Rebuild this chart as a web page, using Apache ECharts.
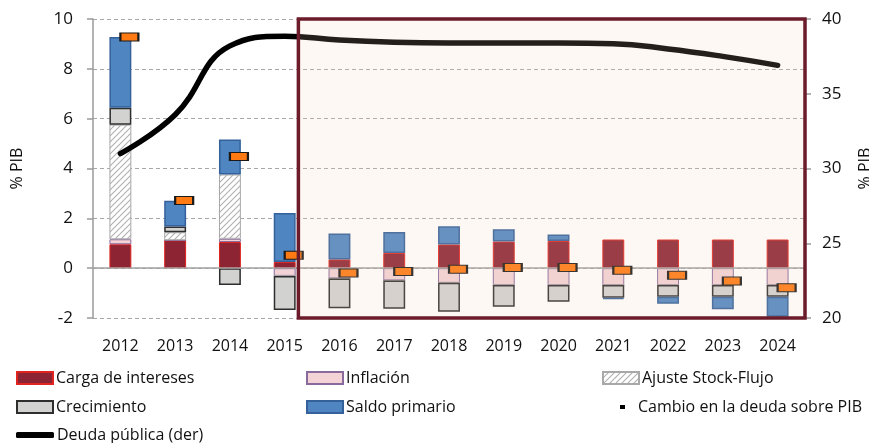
<!DOCTYPE html>
<html>
<head>
<meta charset="utf-8">
<script src="https://cdn.jsdelivr.net/npm/echarts@6/dist/echarts.min.js"></script>
<style>
html,body{margin:0;padding:0;background:#fff;}
#chart{width:869px;height:443px;}
</style>
</head>
<body>
<div id="chart"></div>
<script>
// ---- Data ----
const years = ['2012','2013','2014','2015','2016','2017','2018','2019','2020','2021','2022','2023','2024'];
const cargaIntereses = [0.96, 1.12, 1.05, 0.25, 0.35, 0.61, 0.95, 1.07, 1.09, 1.15, 1.15, 1.15, 1.15];
const inflacion      = [0.20, 0.00, 0.13, -0.31, -0.41, -0.49, -0.59, -0.68, -0.68, -0.68, -0.68, -0.68, -0.68];
const ajusteStock    = [4.60, 0.32, 2.58, 0, 0, 0, 0, 0, 0, 0, 0, 0, 0];
const crecimiento    = [0.68, 0.23, -0.68, -1.37, -1.20, -1.14, -1.16, -0.87, -0.67, -0.51, -0.47, -0.47, -0.47];
const saldoPrimario  = [2.84, 1.04, 1.40, 1.96, 1.04, 0.84, 0.73, 0.49, 0.26, -0.05, -0.28, -0.50, -0.80];
const cambioDeuda    = [9.28, 2.72, 4.48, 0.52, -0.19, -0.13, -0.04, 0.03, 0.03, -0.08, -0.28, -0.52, -0.79];
const deudaPublica   = [31.0, 33.6, 38.2, 38.85, 38.6, 38.45, 38.4, 38.4, 38.4, 38.35, 38.0, 37.5, 36.9];
const leftTicks  = { min: -2, max: 10, interval: 2 };
const rightTicks = { min: 20, max: 40, interval: 5 };
const forecastFromIndex = 3; // shaded projection box starts just after the 2015 bar

const names = {
  carga: 'Carga de intereses',
  infl: 'Inflación',
  ajuste: 'Ajuste Stock-Flujo',
  crec: 'Crecimiento',
  saldo: 'Saldo primario',
  cambio: 'Cambio en la deuda sobre PIB',
  deuda: 'Deuda pública (der)'
};

const FONT = '"Open Sans", "DejaVu Sans", sans-serif';

// hatch pattern
const hatch = document.createElement('canvas');
hatch.width = 6; hatch.height = 6;
(function(){
  const c = hatch.getContext('2d');
  c.fillStyle = '#ffffff'; c.fillRect(0,0,6,6);
  c.strokeStyle = '#b0b0b0'; c.lineWidth = 1.1;
  c.beginPath();
  c.moveTo(0,6); c.lineTo(6,0);
  c.moveTo(-1,1); c.lineTo(1,-1);
  c.moveTo(5,7); c.lineTo(7,5);
  c.stroke();
})();

const chart = echarts.init(document.getElementById('chart'), null, {renderer:'canvas'});

function legendAt(name, left, top, extra) {
  return Object.assign({
    data: [{ name: name, icon: 'rect' }], left: left, top: top, orient: 'horizontal',
    itemWidth: 36, itemHeight: 12, itemGap: 4, padding: 0,
    selectedMode: false,
    textStyle: { fontFamily: FONT, fontSize: 16, color: '#111', padding: [0,0,0,-2] }
  }, extra || {});
}

const barBase = { type: 'bar', stack: 'total', barWidth: '40%', z: 2 };

const option = {
  animation: false,
  backgroundColor: '#ffffff',
  grid: { left: 93, right: 64, top: 19, bottom: 125, containLabel: false, outerBoundsMode: 'none' },
  legend: [
    legendAt(names.carga, 16, 370),
    legendAt(names.infl, 306, 370),
    legendAt(names.ajuste, 602, 370),
    legendAt(names.crec, 16, 399),
    legendAt(names.saldo, 306, 399),
    legendAt(names.cambio, 620, 399, {
      itemWidth: 5, itemHeight: 4,
      data: [{ name: names.cambio, icon: 'rect', itemStyle: { color: '#000', borderWidth: 0, opacity: 1 } }],
      textStyle: { fontFamily: FONT, fontSize: 16, color: '#111', padding: [0,0,0,8] }
    }),
    legendAt(names.deuda, 16, 427, {
      itemWidth: 38, itemHeight: 6,
      data: [{ name: names.deuda, icon: 'roundRect', itemStyle: { color: '#000' } }]
    })
  ],
  xAxis: {
    type: 'category',
    data: years,
    position: 'bottom',
    axisLine: { show: false, onZero: false },
    axisTick: { show: false },
    axisLabel: { fontFamily: FONT, fontSize: 16, color: '#111', margin: 20 },
    splitLine: { show: false }
  },
  yAxis: [
    {
      type: 'value',
      min: leftTicks.min, max: leftTicks.max, interval: leftTicks.interval,
      name: '% PIB', nameLocation: 'middle', nameGap: 68, nameRotate: 90,
      nameTextStyle: { fontFamily: FONT, fontSize: 16, color: '#111' },
      axisLine: { show: true, lineStyle: { color: '#9a9a9a', width: 1.5 } },
      axisTick: { show: true, length: 6, lineStyle: { color: '#9a9a9a', width: 1.5 } },
      axisLabel: { fontFamily: FONT, fontSize: 17, color: '#111', margin: 20 },
      splitLine: { show: true, lineStyle: { color: '#a8a8a8', type: [4, 3], width: 1.2 } }
    },
    {
      type: 'value',
      min: rightTicks.min, max: rightTicks.max, interval: rightTicks.interval,
      position: 'right',
      name: '% PIB', nameLocation: 'middle', nameGap: 52, nameRotate: 90,
      nameTextStyle: { fontFamily: FONT, fontSize: 16, color: '#111' },
      axisLine: { show: true, lineStyle: { color: '#9a9a9a', width: 1.5 } },
      axisTick: { show: true, length: 6, lineStyle: { color: '#9a9a9a', width: 1.5 } },
      axisLabel: { fontFamily: FONT, fontSize: 17, color: '#111', margin: 17 },
      splitLine: { show: false }
    }
  ],
  series: [
    Object.assign({}, barBase, {
      name: names.carga, data: cargaIntereses,
      itemStyle: { color: '#8c2433', borderColor: '#e0241f', borderWidth: 1 },
      markLine: {
        silent: true, symbol: 'none', label: { show: false },
        lineStyle: { color: '#a0a0a0', type: 'solid', width: 1.5 },
        data: [{ yAxis: 0 }]
      }
    }),
    Object.assign({}, barBase, {
      name: names.infl, data: inflacion,
      itemStyle: { color: '#f3d3d6', borderColor: '#8a6a9c', borderWidth: 1 }
    }),
    Object.assign({}, barBase, {
      name: names.ajuste, data: ajusteStock,
      itemStyle: { color: { image: hatch, repeat: 'repeat' }, borderColor: '#a8a8a8', borderWidth: 1 }
    }),
    Object.assign({}, barBase, {
      name: names.crec, data: crecimiento,
      itemStyle: { color: '#d2d2d0', borderColor: '#2e2e2e', borderWidth: 1.5 }
    }),
    Object.assign({}, barBase, {
      name: names.saldo, data: saldoPrimario,
      itemStyle: { color: '#4f86c2', borderColor: '#34619a', borderWidth: 1.5 }
    }),
    {
      name: names.cambio, type: 'scatter', data: cambioDeuda, z: 6,
      symbol: 'rect', symbolSize: [18, 8], symbolOffset: [9, 0],
      itemStyle: { color: '#ff7a12', borderColor: '#1a1a1a', borderWidth: 1.5, opacity: 1 }
    },
    {
      name: names.deuda, type: 'line', yAxisIndex: 1, data: deudaPublica, z: 5,
      smooth: 0.45, showSymbol: false, symbol: 'none',
      lineStyle: { color: '#000', width: 5.5, cap: 'round', join: 'round' },
      itemStyle: { color: '#000' }
    },
    {
      name: 'projection', type: 'custom', z: 10, silent: true,
      data: [[forecastFromIndex]],
      renderItem: function (params, api) {
        const cs = params.coordSys;
        const band = api.size([1, 0])[0];
        const cx = api.coord([api.value(0), 0])[0];
        const x0 = cx + band * 0.25;
        const yTop = api.coord([0, leftTicks.max])[1];
        const yBot = api.coord([0, leftTicks.min])[1];
        const x1 = cs.x + cs.width;
        return {
          type: 'rect',
          shape: { x: x0, y: yTop, width: x1 - x0, height: yBot - yTop },
          style: { fill: 'rgba(242,208,182,0.15)', stroke: '#6b1b2a', lineWidth: 3.5 }
        };
      }
    }
  ]
};

chart.setOption(option);
</script>
</body>
</html>
